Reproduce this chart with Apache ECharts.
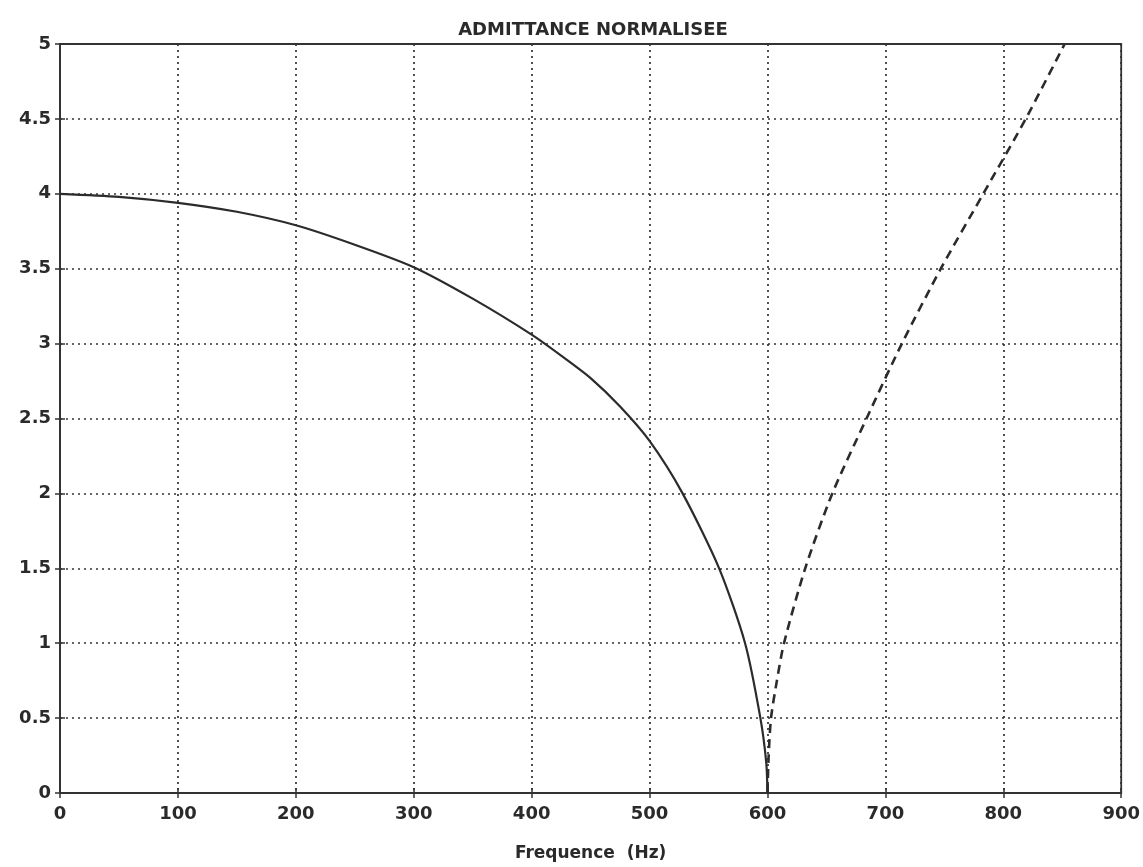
<!DOCTYPE html>
<html>
<head>
    <meta charset="utf-8">
    <title>ADMITTANCE NORMALISEE</title>
    <script src="https://cdn.jsdelivr.net/npm/echarts@6/dist/echarts.min.js"></script>
    <style type="text/css">
        html, body { margin: 0; padding: 0; background: #fff; }
        #main { width: 1143px; height: 867px; }
    </style>
</head>
<body>
    <div id="main"></div>
    <script type="text/javascript">
        // valeurs
        var titre = 'ADMITTANCE NORMALISEE';
        var nomAxeX = 'Frequence  (Hz)';

        // courbe continue : [frequence, admittance]
        var freqPlein = [0, 50, 100, 150, 200, 250, 300, 350, 400, 425, 450, 475, 500, 528, 559, 581, 594, 599, 600];
        var admPlein  = [4.0, 3.98, 3.94, 3.88, 3.79, 3.66, 3.51, 3.30, 3.06, 2.92, 2.77, 2.58, 2.35, 2.0, 1.5, 1.0, 0.5, 0.2, 0];

        // courbe en tirets
        var freqTiret = [600, 601, 603, 608, 614, 632, 655, 684, 714, 747, 783, 819, 852];
        var admTiret  = [0, 0.25, 0.5, 0.75, 1.0, 1.5, 2.0, 2.5, 3.0, 3.5, 4.0, 4.5, 5.0];

        function paires(xs, ys) {
            return xs.map(function (x, i) { return [x, ys[i]]; });
        }

        var police = 'DejaVu Sans';
        var encre = '#2a2a2a';

        var myChart = echarts.init(document.getElementById('main'));

        var grille = {
            show: true,
            lineStyle: { color: '#333', width: 1.7, type: [2, 4] }
        };
        var graduation = { show: true, inside: true, length: 5, lineStyle: { color: '#333', width: 1.5 } };

        myChart.setOption({
            backgroundColor: '#fff',
            animation: false,
            title: {
                text: titre,
                left: 588,
                textAlign: 'center',
                top: 16,
                textStyle: { fontFamily: police, fontWeight: 'bold', fontSize: 18, color: encre }
            },
            grid: {
                left: 60, right: 21, top: 44, bottom: 71,
                show: true,
                borderColor: '#333',
                borderWidth: 1.8
            },
            xAxis: [{
                type: 'value',
                min: 0, max: 900, interval: 100,
                name: nomAxeX,
                nameLocation: 'middle',
                nameGap: 52,
                nameTextStyle: { fontFamily: police, fontWeight: 'bold', fontSize: 17, color: encre },
                axisLine: { show: true, lineStyle: { color: '#333', width: 1.8 } },
                axisTick: graduation,
                splitLine: grille,
                axisLabel: { margin: 12, fontFamily: police, fontWeight: 'bold', fontSize: 18, color: encre }
            }, {
                type: 'value',
                position: 'top',
                min: 0, max: 900, interval: 100,
                axisLine: { show: false },
                axisTick: graduation,
                splitLine: { show: false },
                axisLabel: { show: false }
            }],
            yAxis: [{
                type: 'value',
                min: 0, max: 5, interval: 0.5,
                axisLine: { show: true, lineStyle: { color: '#333', width: 1.8 } },
                axisTick: graduation,
                splitLine: grille,
                axisLabel: { margin: 9, fontFamily: police, fontWeight: 'bold', fontSize: 18, color: encre }
            }, {
                type: 'value',
                position: 'right',
                min: 0, max: 5, interval: 0.5,
                axisLine: { show: false },
                axisTick: graduation,
                splitLine: { show: false },
                axisLabel: { show: false }
            }],
            series: [{
                type: 'line',
                data: paires(freqPlein, admPlein),
                showSymbol: false,
                smooth: 0.25,
                lineStyle: { color: '#2b2b2b', width: 2.2, type: 'solid' }
            }, {
                type: 'line',
                data: paires(freqTiret, admTiret),
                showSymbol: false,
                smooth: 0.25,
                lineStyle: { color: '#2b2b2b', width: 2.6, type: [9, 6] }
            }]
        });
    </script>
</body>
</html>
